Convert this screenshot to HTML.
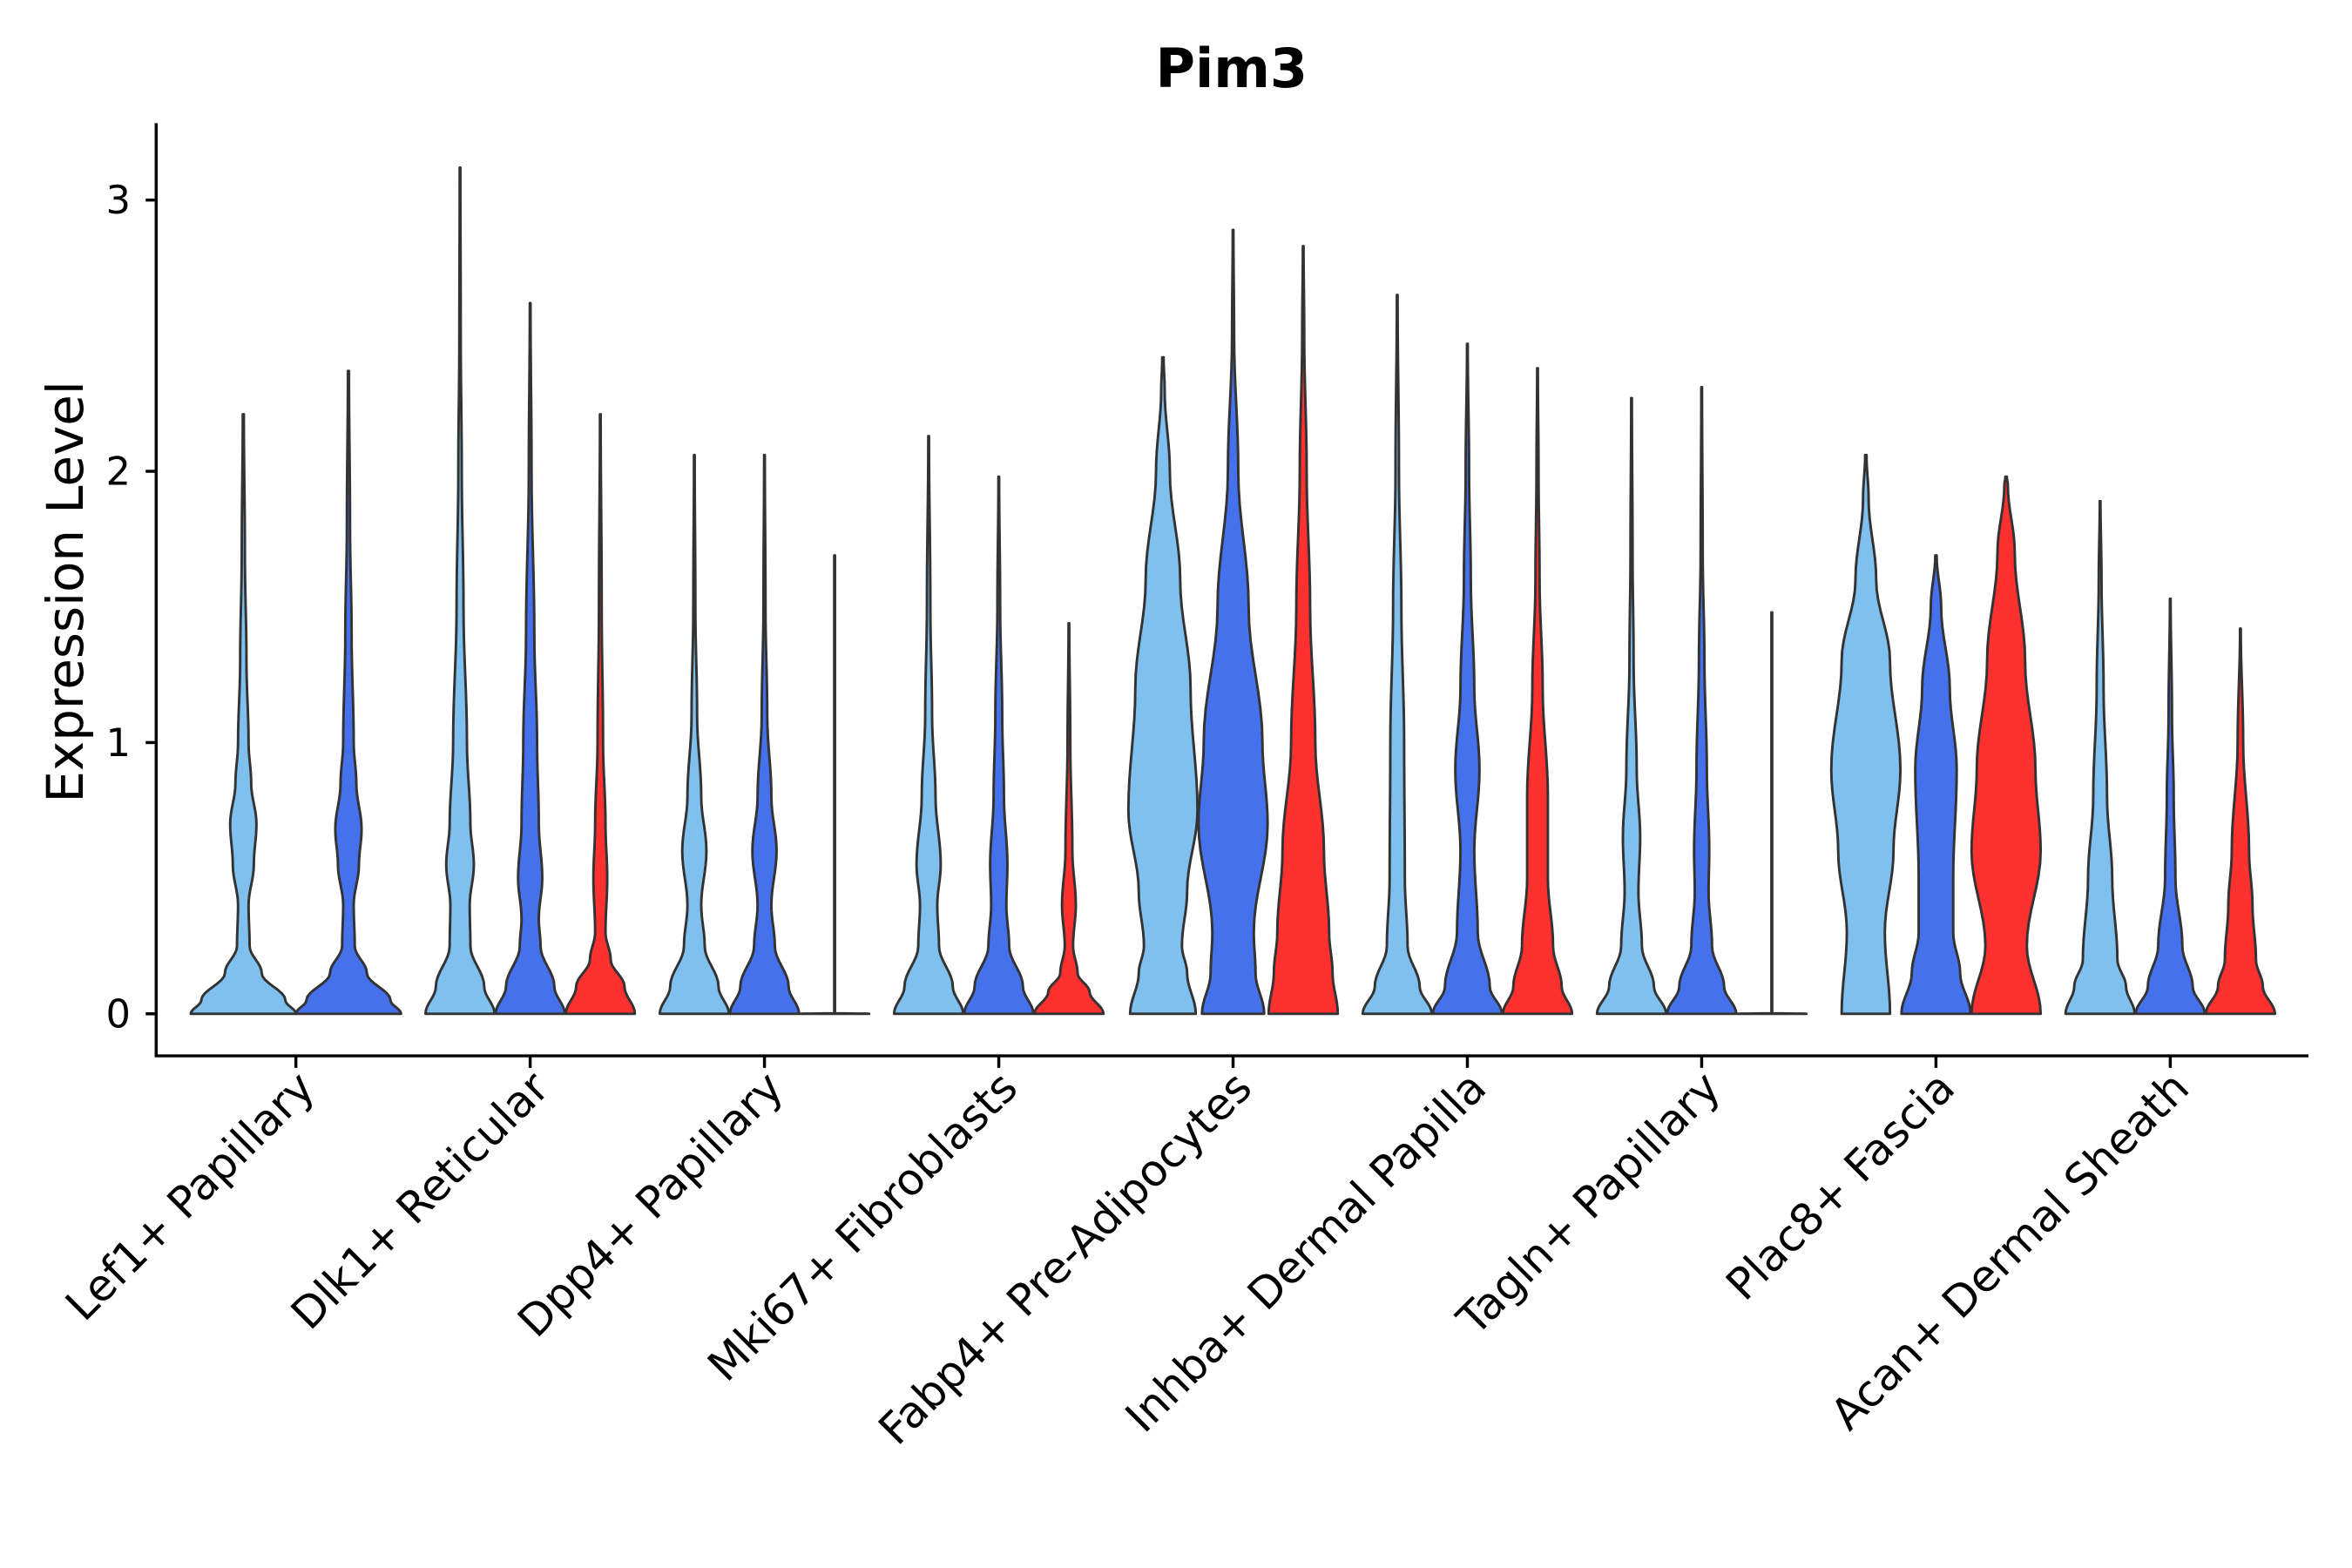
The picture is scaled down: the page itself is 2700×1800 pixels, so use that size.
<!DOCTYPE html>
<html><head><meta charset="utf-8">
<style>
html,body{margin:0;padding:0;background:#fff;}
svg{display:block;}
text{font-family:"DejaVu Sans","Liberation Sans",sans-serif;fill:#000;}
</style></head>
<body>
<svg id="chart" width="2700" height="1800" viewBox="0 0 1566 1044" xmlns="http://www.w3.org/2000/svg">
<text x="820" y="58" text-anchor="middle" font-size="36" font-weight="bold">Pim3</text>
<text transform="translate(55,394) rotate(-90)" text-anchor="middle" font-size="33.5">Expression Level</text>
<g id="plot"></g>
</svg>
<script>
const categories = ["Lef1+ Papillary","Dlk1+ Reticular","Dpp4+ Papillary","Mki67+ Fibroblasts","Fabp4+ Pre-Adipocytes","Inhba+ Dermal Papilla","Tagln+ Papillary","Plac8+ Fascia","Acan+ Dermal Sheath"];
const yTicks = [0,1,2,3];
const groupColors = ["#7FC0EE","#4571EC","#FF3030"];
const groupsPresent = [[0,1],[0,1,2],[0,1,2],[0,1,2],[0,1,2],[0,1,2],[0,1,2],[0,1,2],[0,1,2]];
// density profiles per violin: [value, relative half-width]
const lightProfiles = [
 [[0,1],[0.05,0.8],[0.15,0.35],[0.25,0.12],[0.4,0.1],[0.55,0.2],[0.7,0.25],[0.85,0.15],[1.0,0.1],[1.3,0.06],[1.7,0.03],[2.21,0.01]],
 [[0,1],[0.1,0.7],[0.25,0.3],[0.4,0.28],[0.55,0.4],[0.7,0.3],[1,0.2],[1.5,0.1],[2,0.05],[2.5,0.02],[3.12,0.01]],
 [[0,1],[0.1,0.7],[0.25,0.3],[0.4,0.2],[0.6,0.35],[0.8,0.2],[1.1,0.08],[1.5,0.03],[2.06,0.01]],
 [[0,1],[0.1,0.7],[0.25,0.3],[0.4,0.25],[0.55,0.35],[0.8,0.2],[1.1,0.1],[1.5,0.05],[2.13,0.01]],
 [[0,0.95],[0.15,0.7],[0.25,0.55],[0.45,0.7],[0.75,1.0],[1.2,0.8],[1.6,0.5],[2.0,0.2],[2.3,0.05],[2.42,0.02]],
 [[0,1],[0.1,0.65],[0.25,0.3],[0.5,0.22],[1.0,0.2],[1.5,0.12],[2,0.05],[2.65,0.01]],
 [[0,1],[0.1,0.65],[0.25,0.3],[0.45,0.2],[0.65,0.25],[0.9,0.15],[1.3,0.06],[1.7,0.03],[2.27,0.01]],
 [[0,0.7],[0.3,0.55],[0.6,0.8],[0.9,1.0],[1.3,0.7],[1.6,0.3],[1.9,0.08],[2.06,0.02]],
 [[0,1],[0.1,0.75],[0.2,0.5],[0.5,0.35],[0.8,0.2],[1.2,0.1],[1.6,0.04],[1.89,0.01]]
];
const blueProfiles = [
 [[0,1],[0.05,0.8],[0.15,0.35],[0.25,0.12],[0.4,0.1],[0.55,0.2],[0.68,0.25],[0.85,0.15],[1.0,0.1],[1.4,0.06],[1.8,0.03],[2.37,0.01]],
 [[0,1],[0.1,0.7],[0.25,0.3],[0.35,0.25],[0.5,0.35],[0.7,0.25],[1,0.2],[1.4,0.12],[2,0.04],[2.62,0.01]],
 [[0,1],[0.1,0.7],[0.25,0.3],[0.4,0.2],[0.6,0.35],[0.8,0.2],[1.1,0.08],[1.5,0.03],[2.06,0.01]],
 [[0,1],[0.1,0.7],[0.25,0.3],[0.4,0.22],[0.55,0.25],[0.8,0.15],[1.1,0.1],[1.5,0.04],[1.98,0.01]],
 [[0,0.9],[0.15,0.65],[0.3,0.6],[0.7,1.0],[1.0,0.85],[1.5,0.45],[2.0,0.15],[2.5,0.03],[2.89,0.01]],
 [[0,1],[0.1,0.65],[0.3,0.3],[0.6,0.2],[0.9,0.35],[1.2,0.2],[1.6,0.1],[2,0.05],[2.47,0.01]],
 [[0,1],[0.1,0.65],[0.25,0.3],[0.45,0.2],[0.6,0.22],[0.9,0.15],[1.3,0.08],[1.7,0.03],[2.31,0.01]],
 [[0,1],[0.15,0.7],[0.3,0.5],[0.5,0.5],[0.9,0.6],[1.2,0.4],[1.5,0.15],[1.69,0.02]],
 [[0,1],[0.1,0.65],[0.25,0.35],[0.5,0.15],[0.8,0.1],[1.1,0.05],[1.53,0.01]]
];
const redProfiles = [
 null,
 [[0,1],[0.1,0.7],[0.2,0.3],[0.3,0.15],[0.5,0.2],[0.7,0.15],[1.0,0.08],[1.5,0.04],[2.21,0.01]],
 [[0,1],[0.002,0.01],[1.69,0.01]],
 [[0,1],[0.08,0.6],[0.15,0.25],[0.25,0.12],[0.4,0.2],[0.6,0.1],[1.0,0.04],[1.44,0.01]],
 [[0,1.0],[0.15,0.85],[0.3,0.75],[0.6,0.6],[1.0,0.35],[1.5,0.2],[2.0,0.1],[2.5,0.03],[2.83,0.01]],
 [[0,1],[0.1,0.7],[0.25,0.45],[0.5,0.3],[0.8,0.3],[1.2,0.15],[1.6,0.06],[2.0,0.03],[2.38,0.01]],
 [[0,1],[0.002,0.01],[1.48,0.01]],
 [[0,1.0],[0.25,0.6],[0.6,1.0],[0.9,0.85],[1.3,0.55],[1.7,0.25],[1.95,0.05],[1.98,0.02]],
 [[0,1],[0.1,0.65],[0.2,0.45],[0.4,0.35],[0.6,0.25],[1.0,0.08],[1.42,0.01]]
];
const X0 = 197, XSTEP = 156, Y0 = 675, YUNIT = 180.6;
const xScale = i => X0 + i*XSTEP;
const yScale = v => Y0 - v*YUNIT;
const plot = document.getElementById('plot');
const NS = "http://www.w3.org/2000/svg";
function mk(tag, attrs){const e=document.createElementNS(NS,tag);for(const k in attrs)e.setAttribute(k,attrs[k]);return e;}
function sample(prof){
  const pts=[];
  for(let i=0;i<prof.length-1;i++){
    const [v0,w0]=prof[i],[v1,w1]=prof[i+1];
    for(let s=0;s<8;s++){const t=s/8,c=(1-Math.cos(Math.PI*t))/2;pts.push([v0+(v1-v0)*t,w0+(w1-w0)*c]);}
  }
  pts.push(prof[prof.length-1]);return pts;
}
const yAxis = mk('line',{x1:104,y1:82,x2:104,y2:703,stroke:'#000','stroke-width':2});


plot.appendChild(yAxis);
const xAxis = mk('line',{x1:103,y1:703,x2:1537,y2:703,stroke:'#000','stroke-width':2});


plot.appendChild(xAxis);
yTicks.forEach(t=>{
  const y=yScale(t);
  const tk=mk('line',{x1:97,y1:y,x2:104,y2:y,stroke:'#000','stroke-width':2});
  
  
  plot.appendChild(tk);
  const lb=mk('text',{x:87,y:y+9,'text-anchor':'end','font-size':26});
  lb.textContent=t;
  
  
  plot.appendChild(lb);
});
categories.forEach((c,i)=>{
  const cx=xScale(i);
  const tk=mk('line',{x1:cx,y1:703,x2:cx,y2:711,stroke:'#000','stroke-width':2});
  
  
  plot.appendChild(tk);
  const lb=mk('text',{transform:`translate(${cx+14},${726}) rotate(-45)`,'text-anchor':'end','font-size':29});
  lb.textContent=c;
  
  
  plot.appendChild(lb);
  const gp=groupsPresent[i];
  const n=gp.length;
  const dodge = n===2 ? 70 : 46.7;
  const half = n===2 ? 35 : 23;
  const profs=[lightProfiles[i],blueProfiles[i],redProfiles[i]];
  gp.forEach((g,k)=>{
    const prof=profs[g]; if(!prof) return;
    const vx=cx+(k-(n-1)/2)*dodge;
    const pts=sample(prof);
    let d='';
    pts.forEach((p,j)=>{d+=(j?'L':'M')+(vx+p[1]*half).toFixed(2)+','+yScale(p[0]).toFixed(2);});
    for(let j=pts.length-1;j>=0;j--){const p=pts[j];d+='L'+(vx-p[1]*half).toFixed(2)+','+yScale(p[0]).toFixed(2);}
    d+='Z';
    const path=mk('path',{d:d,fill:groupColors[g],stroke:'#333','stroke-width':1.7,'stroke-linejoin':'round'});
    
    
    plot.appendChild(path);
  });
});
</script>
</body></html>
